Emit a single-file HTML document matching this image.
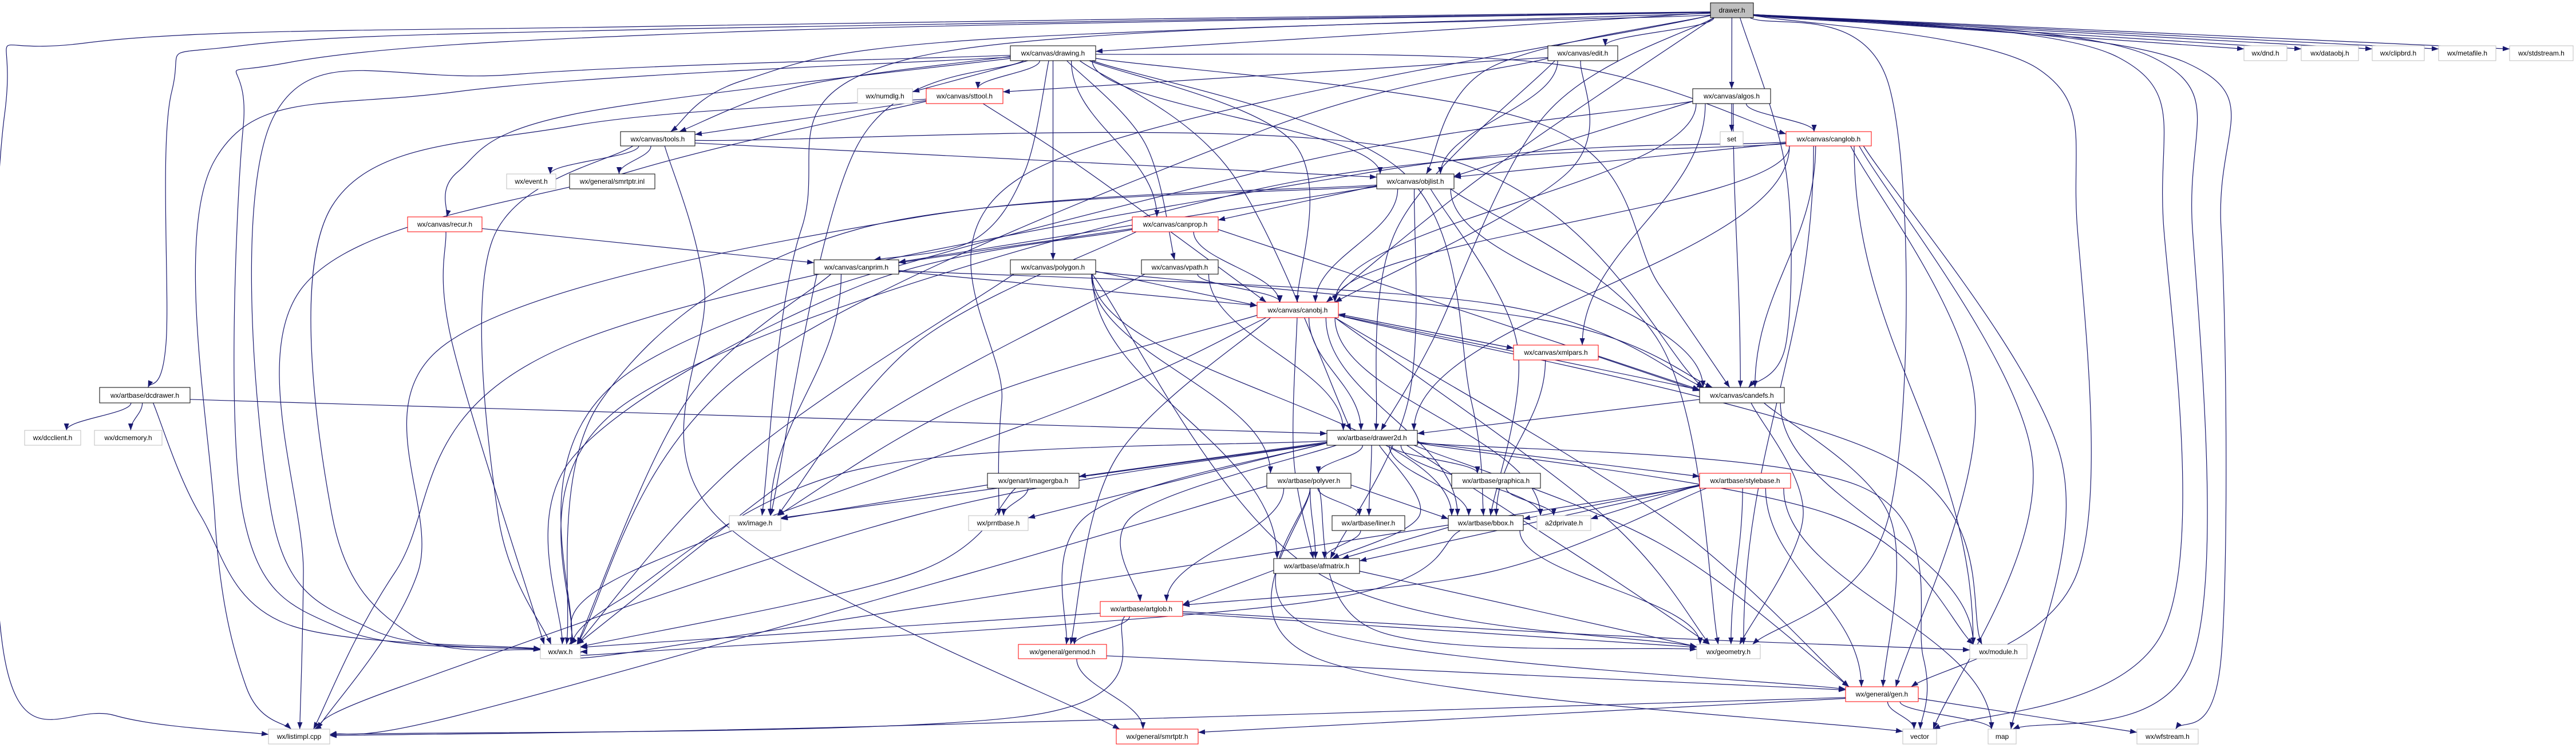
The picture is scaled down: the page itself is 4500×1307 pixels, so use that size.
<!DOCTYPE html>
<html><head><meta charset="utf-8"><style>
html,body{margin:0;padding:0;background:#fff;width:4500px;height:1307px;overflow:hidden}
svg{display:block}
text{font-family:"Liberation Sans",sans-serif;font-size:12px;fill:#000}
</style></head><body>
<svg id="g" width="4500" height="1307" viewBox="0 0 4500 1307" xmlns="http://www.w3.org/2000/svg">
<defs><marker id="a" markerUnits="userSpaceOnUse" markerWidth="13" markerHeight="10" refX="12" refY="4.5" orient="auto"><path d="M0,0 L12,4.5 L0,9 z" fill="#191970"/></marker></defs>
<g id="edges" fill="none" stroke="#191970" stroke-width="1.2"></g>
<g id="nodes">
<rect x="2988" y="5" width="75" height="26" fill="#bfbfbf" stroke="#000"/><text x="3025.5" y="22" text-anchor="middle">drawer.h</text>
<rect x="1765" y="80" width="149" height="26" fill="#fff" stroke="#000"/><text x="1839.5" y="97" text-anchor="middle">wx/canvas/drawing.h</text>
<rect x="2704" y="80" width="122" height="26" fill="#fff" stroke="#000"/><text x="2765" y="97" text-anchor="middle">wx/canvas/edit.h</text>
<rect x="3920" y="80" width="75" height="26" fill="#fff" stroke="#bfbfbf"/><text x="3957.5" y="97" text-anchor="middle">wx/dnd.h</text>
<rect x="4020" y="80" width="100" height="26" fill="#fff" stroke="#bfbfbf"/><text x="4070" y="97" text-anchor="middle">wx/dataobj.h</text>
<rect x="4144" y="80" width="91" height="26" fill="#fff" stroke="#bfbfbf"/><text x="4189.5" y="97" text-anchor="middle">wx/clipbrd.h</text>
<rect x="4260" y="80" width="100" height="26" fill="#fff" stroke="#bfbfbf"/><text x="4310" y="97" text-anchor="middle">wx/metafile.h</text>
<rect x="4384" y="80" width="111" height="26" fill="#fff" stroke="#bfbfbf"/><text x="4439.5" y="97" text-anchor="middle">wx/stdstream.h</text>
<rect x="1498" y="155" width="96" height="26" fill="#fff" stroke="#bfbfbf"/><text x="1546" y="172" text-anchor="middle">wx/numdlg.h</text>
<rect x="1618" y="155" width="134" height="26" fill="#fff" stroke="#f00"/><text x="1685" y="172" text-anchor="middle">wx/canvas/sttool.h</text>
<rect x="2957" y="155" width="136" height="26" fill="#fff" stroke="#000"/><text x="3025" y="172" text-anchor="middle">wx/canvas/algos.h</text>
<rect x="1084" y="230" width="130" height="25" fill="#fff" stroke="#000"/><text x="1149" y="247" text-anchor="middle">wx/canvas/tools.h</text>
<rect x="3005" y="230" width="40" height="25" fill="#fff" stroke="#bfbfbf"/><text x="3025" y="247" text-anchor="middle">set</text>
<rect x="3120" y="230" width="149" height="25" fill="#fff" stroke="#f00"/><text x="3194.5" y="247" text-anchor="middle">wx/canvas/canglob.h</text>
<rect x="885" y="304" width="86" height="26" fill="#fff" stroke="#bfbfbf"/><text x="928" y="321" text-anchor="middle">wx/event.h</text>
<rect x="995" y="304" width="149" height="26" fill="#fff" stroke="#000"/><text x="1069.5" y="321" text-anchor="middle">wx/general/smrtptr.inl</text>
<rect x="2405" y="304" width="135" height="26" fill="#fff" stroke="#000"/><text x="2472.5" y="321" text-anchor="middle">wx/canvas/objlist.h</text>
<rect x="712" y="379" width="130" height="26" fill="#fff" stroke="#f00"/><text x="777" y="396" text-anchor="middle">wx/canvas/recur.h</text>
<rect x="1978" y="379" width="150" height="26" fill="#fff" stroke="#f00"/><text x="2053" y="396" text-anchor="middle">wx/canvas/canprop.h</text>
<rect x="1422" y="454" width="148" height="25" fill="#fff" stroke="#000"/><text x="1496" y="471" text-anchor="middle">wx/canvas/canprim.h</text>
<rect x="1765" y="454" width="149" height="25" fill="#fff" stroke="#000"/><text x="1839.5" y="471" text-anchor="middle">wx/canvas/polygon.h</text>
<rect x="1994" y="454" width="134" height="25" fill="#fff" stroke="#000"/><text x="2061" y="471" text-anchor="middle">wx/canvas/vpath.h</text>
<rect x="2196" y="528" width="142" height="27" fill="#fff" stroke="#f00"/><text x="2267" y="546" text-anchor="middle">wx/canvas/canobj.h</text>
<rect x="2644" y="603" width="148" height="26" fill="#fff" stroke="#f00"/><text x="2718" y="620" text-anchor="middle">wx/canvas/xmlpars.h</text>
<rect x="174" y="677" width="158" height="27" fill="#fff" stroke="#000"/><text x="253" y="695" text-anchor="middle">wx/artbase/dcdrawer.h</text>
<rect x="2969" y="677" width="148" height="27" fill="#fff" stroke="#000"/><text x="3043" y="695" text-anchor="middle">wx/canvas/candefs.h</text>
<rect x="43" y="752" width="98" height="26" fill="#fff" stroke="#bfbfbf"/><text x="92" y="769" text-anchor="middle">wx/dcclient.h</text>
<rect x="165" y="752" width="118" height="26" fill="#fff" stroke="#bfbfbf"/><text x="224" y="769" text-anchor="middle">wx/dcmemory.h</text>
<rect x="2318" y="752" width="158" height="26" fill="#fff" stroke="#000"/><text x="2397" y="769" text-anchor="middle">wx/artbase/drawer2d.h</text>
<rect x="1725" y="827" width="160" height="26" fill="#fff" stroke="#000"/><text x="1805" y="844" text-anchor="middle">wx/genart/imagergba.h</text>
<rect x="2213" y="827" width="147" height="26" fill="#fff" stroke="#000"/><text x="2286.5" y="844" text-anchor="middle">wx/artbase/polyver.h</text>
<rect x="2536" y="827" width="155" height="26" fill="#fff" stroke="#000"/><text x="2613.5" y="844" text-anchor="middle">wx/artbase/graphica.h</text>
<rect x="2969" y="827" width="159" height="26" fill="#fff" stroke="#f00"/><text x="3048.5" y="844" text-anchor="middle">wx/artbase/stylebase.h</text>
<rect x="1274" y="901" width="90" height="26" fill="#fff" stroke="#bfbfbf"/><text x="1319" y="918" text-anchor="middle">wx/image.h</text>
<rect x="1692" y="901" width="104" height="26" fill="#fff" stroke="#bfbfbf"/><text x="1744" y="918" text-anchor="middle">wx/prntbase.h</text>
<rect x="2327" y="901" width="127" height="26" fill="#fff" stroke="#000"/><text x="2390.5" y="918" text-anchor="middle">wx/artbase/liner.h</text>
<rect x="2530" y="901" width="131" height="26" fill="#fff" stroke="#000"/><text x="2595.5" y="918" text-anchor="middle">wx/artbase/bbox.h</text>
<rect x="2685" y="901" width="94" height="26" fill="#fff" stroke="#bfbfbf"/><text x="2732" y="918" text-anchor="middle">a2dprivate.h</text>
<rect x="2225" y="976" width="150" height="26" fill="#fff" stroke="#000"/><text x="2300" y="993" text-anchor="middle">wx/artbase/afmatrix.h</text>
<rect x="1922" y="1051" width="144" height="26" fill="#fff" stroke="#f00"/><text x="1994" y="1068" text-anchor="middle">wx/artbase/artglob.h</text>
<rect x="944" y="1126" width="70" height="25" fill="#fff" stroke="#bfbfbf"/><text x="979" y="1143" text-anchor="middle">wx/wx.h</text>
<rect x="1779" y="1126" width="154" height="25" fill="#fff" stroke="#f00"/><text x="1856" y="1143" text-anchor="middle">wx/general/genmod.h</text>
<rect x="2964" y="1126" width="111" height="25" fill="#fff" stroke="#bfbfbf"/><text x="3019.5" y="1143" text-anchor="middle">wx/geometry.h</text>
<rect x="3441" y="1126" width="100" height="25" fill="#fff" stroke="#bfbfbf"/><text x="3491" y="1143" text-anchor="middle">wx/module.h</text>
<rect x="3224" y="1200" width="127" height="26" fill="#fff" stroke="#f00"/><text x="3287.5" y="1217" text-anchor="middle">wx/general/gen.h</text>
<rect x="469" y="1274" width="107" height="26" fill="#fff" stroke="#bfbfbf"/><text x="522.5" y="1291" text-anchor="middle">wx/listimpl.cpp</text>
<rect x="1950" y="1274" width="143" height="26" fill="#fff" stroke="#f00"/><text x="2021.5" y="1291" text-anchor="middle">wx/general/smrtptr.h</text>
<rect x="3324" y="1274" width="59" height="26" fill="#fff" stroke="#bfbfbf"/><text x="3353.5" y="1291" text-anchor="middle">vector</text>
<rect x="3473" y="1274" width="49" height="26" fill="#fff" stroke="#bfbfbf"/><text x="3497.5" y="1291" text-anchor="middle">map</text>
<rect x="3733" y="1274" width="107" height="26" fill="#fff" stroke="#bfbfbf"/><text x="3786.5" y="1291" text-anchor="middle">wx/wfstream.h</text>
</g>
</svg>
<script>
var N={drawer:[2988,5,3063,31],drawing:[1765,80,1914,106],edit:[2704,80,2826,106],dnd:[3920,80,3995,106],dataobj:[4020,80,4120,106],clipbrd:[4144,80,4235,106],metafile:[4260,80,4360,106],stdstream:[4384,80,4495,106],numdlg:[1498,155,1594,181],sttool:[1618,155,1752,181],algos:[2957,155,3093,181],tools:[1084,230,1214,255],set:[3005,230,3045,255],canglob:[3120,230,3269,255],event:[885,304,971,330],smrtinl:[995,304,1144,330],objlist:[2405,304,2540,330],recur:[712,379,842,405],canprop:[1978,379,2128,405],canprim:[1422,454,1570,479],polygon:[1765,454,1914,479],vpath:[1994,454,2128,479],canobj:[2196,528,2338,555],xmlpars:[2644,603,2792,629],dcdrawer:[174,677,332,704],candefs:[2969,677,3117,704],dcclient:[43,752,141,778],dcmemory:[165,752,283,778],drawer2d:[2318,752,2476,778],imagergba:[1725,827,1885,853],polyver:[2213,827,2360,853],graphica:[2536,827,2691,853],stylebase:[2969,827,3128,853],image:[1274,901,1364,927],prntbase:[1692,901,1796,927],liner:[2327,901,2454,927],bbox:[2530,901,2661,927],a2dpriv:[2685,901,2779,927],afmatrix:[2225,976,2375,1002],artglob:[1922,1051,2066,1077],wx:[944,1126,1014,1151],genmod:[1779,1126,1933,1151],geometry:[2964,1126,3075,1151],module:[3441,1126,3541,1151],gen:[3224,1200,3351,1226],listimpl:[469,1274,576,1300],smrtptr:[1950,1274,2093,1300],vector:[3324,1274,3383,1300],map:[3473,1274,3522,1300],wfstream:[3733,1274,3840,1300]};
var E=[
["drawer","drawing",[[2400,60]]],["drawer","edit"],["drawer","algos"],["drawer","dnd"],["drawer","dataobj"],["drawer","clipbrd"],["drawer","metafile"],["drawer","stdstream"],
["drawer","listimpl",[[1200,45],[150,75],[8,200],[8,1150],[200,1250]]],
["drawer","dcdrawer",[[1200,50],[420,80],[300,160],[290,600]]],
["drawer","wx",[[1300,55],[500,110],[425,220],[425,900],[600,1100]]],
["drawer","tools",[[1700,70],[1300,140]]],["drawer","objlist",[[2600,120]]],["drawer","candefs",[[3120,300],[3120,600]]],
["drawer","drawer2d",[[2700,200],[2500,600]]],["drawer","geometry",[[3300,150],[3300,900]]],["drawer","image",[[1600,100],[1400,400]]],
["drawer","gen",[[3560,120],[3629,400],[3629,1000]]],["drawer","vector",[[3700,100],[3780,400],[3780,1100]]],
["drawer","map",[[3760,100],[3830,400],[3830,1150]]],["drawer","wfstream",[[3820,110],[3880,400],[3880,1150]]],
["drawer","canobj",[[2600,300]]],["drawer","prntbase",[[1800,300],[1750,700]]],
["drawing","numdlg"],["drawing","sttool"],["drawing","tools",[[1400,150]]],["drawing","recur",[[1000,200],[800,300]]],
["drawing","canprim",[[1790,300],[1700,420]]],["drawing","polygon"],["drawing","vpath",[[2000,250]]],["drawing","canprop"],
["drawing","canobj",[[2260,250]]],["drawing","objlist"],["drawing","canglob",[[2700,110]]],["drawing","candefs",[[2700,220],[2900,500]]],
["drawing","wx",[[900,130],[480,200],[475,900],[650,1100]]],["drawing","listimpl",[[800,160],[375,280],[375,900],[430,1200]]],
["drawing","image",[[1500,250]]],["drawing","drawer2d",[[2150,300]]],["drawing","bbox",[[2450,300],[2570,700]]],
["edit","sttool"],["edit","objlist"],["edit","canobj",[[2740,300]]],["edit","wx",[[2200,230],[1300,650]]],["edit","drawer2d",[[2440,400]]],
["sttool","tools"],["sttool","canobj",[[1900,300]]],["sttool","listimpl",[[1100,300],[530,500],[530,1000]]],["sttool","wx",[[1000,220],[580,360],[580,900],[720,1110]]],
["algos","set"],["algos","canglob"],["algos","objlist"],["algos","candefs"],["algos","xmlpars"],["algos","wx",[[2200,300],[1100,650]]],["algos","canobj"],
["tools","event"],["tools","smrtinl"],["tools","objlist"],["tools","wx",[[860,420],[870,900]]],["tools","smrtptr",[[1230,500],[1250,900]]],["tools","candefs",[[2500,270]]],
["canglob","objlist"],["canglob","candefs"],["canglob","drawer2d"],["canglob","geometry"],["canglob","module"],["canglob","gen",[[3450,700]]],
["canglob","vector",[[3550,800]]],["canglob","map",[[3600,800]]],["canglob","wx",[[2200,330],[1100,700]]],["canglob","listimpl",[[2400,300],[1000,600],[690,1000]]],["canglob","canobj"],
["objlist","canprop"],["objlist","canprim"],["objlist","canobj"],["objlist","candefs"],["objlist","wx",[[1500,400],[1050,700]]],["objlist","listimpl",[[1600,380],[780,600],[730,1000]]],
["objlist","geometry",[[2900,600]]],["objlist","afmatrix",[[2460,700]]],["objlist","bbox",[[2650,600]]],
["recur","canprim"],["recur","wx",[[790,600]]],
["canprop","canprim"],["canprop","canobj"],["canprop","candefs"],["canprop","wx",[[1500,500],[1000,800]]],["canprop","image",[[1600,600]]],
["canprim","canobj"],["canprim","candefs",[[2600,530]]],["canprim","wx",[[1200,700]]],["canprim","image"],
["polygon","canobj"],["polygon","polyver"],["polygon","afmatrix"],["polygon","bbox"],["polygon","wx",[[1300,800]]],["polygon","geometry",[[2300,1000]]],["polygon","candefs",[[2700,560]]],
["vpath","canobj"],["vpath","drawer2d"],["vpath","wx",[[1500,750]]],
["canobj","xmlpars"],["xmlpars","canobj"],["canobj","candefs"],["canobj","drawer2d"],["canobj","afmatrix",[[2260,800]]],["canobj","bbox"],
["canobj","wx",[[1900,700],[1100,1000]]],["canobj","image",[[1700,700]]],["canobj","genmod",[[1950,800]]],["canobj","geometry",[[2800,900]]],
["canobj","gen",[[2900,900]]],["canobj","module",[[3300,800]]],["canobj","a2dpriv"],
["xmlpars","candefs"],["xmlpars","bbox"],
["candefs","drawer2d"],["candefs","geometry",[[3150,900]]],["candefs","gen",[[3300,900]]],["candefs","module"],
["dcdrawer","dcclient"],["dcdrawer","dcmemory"],["dcdrawer","drawer2d"],["dcdrawer","wx",[[350,900],[500,1090]]],
["drawer2d","imagergba"],["drawer2d","polyver"],["drawer2d","graphica"],["drawer2d","liner"],["drawer2d","bbox"],["drawer2d","afmatrix",[[2480,900]]],
["drawer2d","stylebase"],["drawer2d","a2dpriv"],["drawer2d","prntbase"],["drawer2d","artglob",[[1980,900]]],["drawer2d","genmod",[[1900,900]]],
["drawer2d","wx",[[1500,820],[1080,1050]]],["drawer2d","image"],["drawer2d","geometry",[[2800,1000]]],["drawer2d","module",[[3200,900]]],
["drawer2d","vector",[[3250,850],[3360,1150]]],["drawer2d","gen",[[2900,950]]],["drawer2d","listimpl",[[1600,900],[700,1200]]],
["stylebase","bbox"],["stylebase","a2dpriv"],["stylebase","afmatrix"],["stylebase","artglob",[[2600,1000]]],["stylebase","geometry"],["stylebase","gen"],["stylebase","map"],["stylebase","wx",[[2000,1000],[1100,1140]]],
["imagergba","prntbase"],["imagergba","image"],["imagergba","wx",[[1600,1000]]],
["polyver","liner"],["polyver","bbox"],["polyver","afmatrix"],["polyver","artglob"],["polyver","geometry",[[2400,1100]]],["polyver","listimpl",[[1700,1000],[800,1250]]],
["polyver","gen",[[2300,1100]]],["polyver","vector",[[2300,1150]]],
["graphica","a2dpriv"],["liner","afmatrix"],["bbox","afmatrix"],["bbox","geometry"],["bbox","wx",[[2300,1050],[1100,1140]]],
["afmatrix","artglob"],["afmatrix","geometry"],
["artglob","genmod"],["artglob","geometry"],["artglob","module",[[2800,1110]]],["artglob","wx"],["artglob","listimpl",[[1800,1250]]],
["genmod","smrtptr"],["genmod","gen"],
["gen","vector"],["gen","map"],["gen","wfstream"],["gen","listimpl",[[1500,1270]]],["gen","smrtptr"]
];
function C(n){return[(n[0]+n[2])/2,(n[1]+n[3])/2];}
function cl(v,a,b){return Math.max(a,Math.min(b,v));}
function anc(n,p){var c=C(n),dx=p[0]-c[0],dy=p[1]-c[1],hw=(n[2]-n[0])/2,hh=(n[3]-n[1])/2;
 if(Math.abs(dy)<hh+8||Math.abs(dx)>3*Math.abs(dy)+hw){return[dx>0?n[2]:n[0],cl(c[1]+dy*0.1,n[1]+4,n[3]-4)];}
 var x=cl(c[0]+dx*0.15,n[0]+6,n[2]-6);return[x,dy>0?n[3]:n[1]];}
var out="";
E.forEach(function(e){var s=N[e[0]],t=N[e[1]],v=e[2]||[];
 var p1=anc(s,v.length?v[0]:C(t)),p2=anc(t,v.length?v[v.length-1]:C(s));
 var P=[p1].concat(v,[p2]);var d="M"+P[0][0]+","+P[0][1];
 if(P.length==2){var a=P[0],b=P[1],vert=(a[1]==s[3]||a[1]==s[1])&&(b[1]==t[1]||b[1]==t[3]);
  if(vert){var m=(b[1]-a[1])*0.4;d+=" C"+a[0]+","+(a[1]+m)+" "+b[0]+","+(b[1]-m)+" "+b[0]+","+b[1];}else d+=" L"+b[0]+","+b[1];}
 else{for(var i=0;i<P.length-1;i++){var p0=P[i-1]||P[i],pa=P[i],pb=P[i+1],p3=P[i+2]||P[i+1];
  d+=" C"+(pa[0]+(pb[0]-p0[0])/6)+","+(pa[1]+(pb[1]-p0[1])/6)+" "+(pb[0]-(p3[0]-pa[0])/6)+","+(pb[1]-(p3[1]-pa[1])/6)+" "+pb[0]+","+pb[1];}}
 out+='<path d="'+d+'" marker-end="url(#a)"/>';});
document.getElementById("edges").innerHTML=out;
</script>
</body></html>
